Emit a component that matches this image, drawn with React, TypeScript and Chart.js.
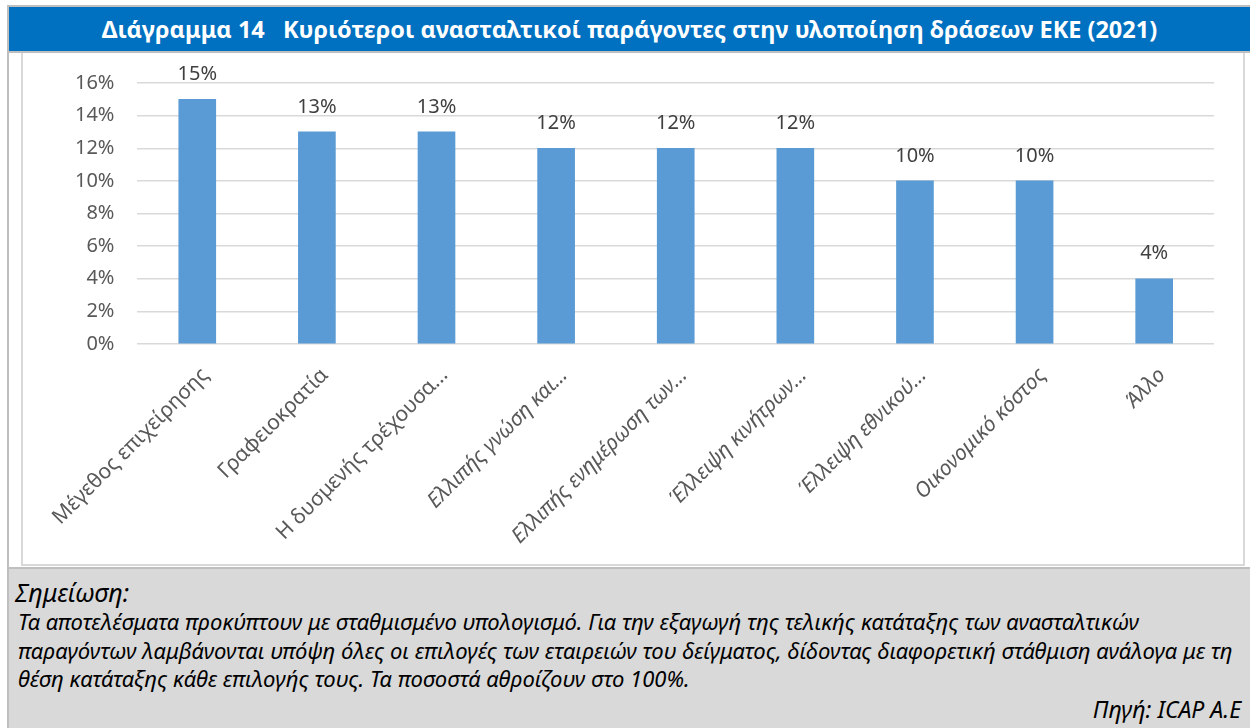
import React, { useEffect, useRef } from "react";
import { Chart, registerables } from "chart.js";

Chart.register(...registerables);

const titleText = "Διάγραμμα 14\u00a0\u00a0\u00a0Κυριότεροι ανασταλτικοί παράγοντες στην υλοποίηση δράσεων ΕΚΕ (2021)";
const categories = [
  "Μέγεθος επιχείρησης",
  "Γραφειοκρατία",
  "Η δυσμενής τρέχουσα...",
  "Ελλιπής γνώση και...",
  "Ελλιπής ενημέρωση των...",
  "Έλλειψη κινήτρων...",
  "Έλλειψη εθνικού...",
  "Οικονομικό κόστος",
  "Άλλο",
];
const values = [15, 13, 13, 12, 12, 12, 10, 10, 4];
const yMin = 0;
const yMax = 16;
const yStep = 2;
const noteTitle = "Σημείωση:";
const noteLines = [
  "Τα αποτελέσματα προκύπτουν με σταθμισμένο υπολογισμό. Για την εξαγωγή της τελικής κατάταξης των ανασταλτικών",
  "παραγόντων λαμβάνονται υπόψη όλες οι επιλογές των εταιρειών του δείγματος, δίδοντας διαφορετική στάθμιση ανάλογα με τη",
  "θέση κατάταξης κάθε επιλογής τους. Τα ποσοστά αθροίζουν στο 100%.",
];
const sourceText = "Πηγή: ICAP A.E";

const FONT = "'Noto Sans', sans-serif";

const valueLabelPlugin = {
  id: "valueLabels",
  afterDatasetsDraw(chart: any) {
    const ctx = chart.ctx;
    const meta = chart.getDatasetMeta(0);
    ctx.save();
    ctx.fillStyle = "#404040";
    ctx.font = "20px " + FONT;
    ctx.textAlign = "center";
    ctx.textBaseline = "bottom";
    meta.data.forEach((bar: any, i: number) => {
      ctx.fillText(values[i] + "%", bar.x, bar.y - 15);
    });
    ctx.restore();
  },
};

export default function App() {
  const ref = useRef<HTMLCanvasElement>(null);
  useEffect(() => {
    document.body.style.margin = "0";
    const chart = new Chart(ref.current as HTMLCanvasElement, {
      type: "bar",
      data: {
        labels: categories,
        datasets: [
          {
            data: values,
            backgroundColor: "#5b9bd5",
            barThickness: 37,
          },
        ],
      },
      options: {
        animation: false,
        responsive: false,
        maintainAspectRatio: false,
        layout: { padding: { top: 30, right: 29, left: 0, bottom: 0 } },
        plugins: {
          legend: { display: false },
          tooltip: { enabled: false },
        },
        scales: {
          x: {
            grid: { display: false, drawTicks: false },
            border: { display: false },
            ticks: {
              autoSkip: false,
              minRotation: 45,
              maxRotation: 45,
              padding: 19,
              labelOffset: 8,
              color: "#595959",
              font: (ctx: any) => ({
                family: FONT,
                size: 21,
                style: ctx.index >= 3 ? "italic" : "normal",
              }),
            },
            afterFit: (s: any) => {
              s.height = 220;
            },
          },
          y: {
            min: yMin,
            max: yMax,
            ticks: {
              stepSize: yStep,
              padding: 23,
              color: "#595959",
              font: { family: FONT, size: 20 },
              callback: (v: any) => v + "%",
            },
            grid: { color: "#d9d9d9", lineWidth: 1.5, drawTicks: false },
            border: { display: false },
            afterFit: (s: any) => {
              s.width = 112;
              s.paddingTop = 12;
              s.paddingBottom = 12;
            },
          },
        },
      },
      plugins: [valueLabelPlugin],
    });
    return () => chart.destroy();
  }, []);

  return (
    <div style={{ position: "relative", width: 1250, height: 728, overflow: "hidden", background: "#fff", fontFamily: FONT }}>
      <div style={{ position: "absolute", left: 7, top: 5, width: 1250, height: 730, border: "2px solid #bfbfbf", boxSizing: "border-box" }} />
      <div
        style={{
          position: "absolute",
          left: 9,
          top: 7,
          width: 1241,
          height: 44,
          background: "#0070c0",
          color: "#fff",
          fontWeight: 700,
          fontSize: 23.5,
          display: "flex",
          alignItems: "center",
          justifyContent: "center",
          whiteSpace: "nowrap",
          borderBottom: "2px solid #bfbfbf",
          boxSizing: "content-box",
        }}
      >
        {titleText}
      </div>
      <div
        style={{
          position: "absolute",
          left: 21,
          top: 53,
          width: 1224,
          height: 513,
          borderLeft: "2px solid #d9d9d9",
          borderRight: "2px solid #d9d9d9",
          borderBottom: "2px solid #d9d9d9",
          boxSizing: "border-box",
        }}
      />
      <canvas
        ref={ref}
        width={1220}
        height={511}
        style={{ position: "absolute", left: 23, top: 53, width: 1220, height: 511 }}
      />
      <div
        style={{
          position: "absolute",
          left: 9,
          top: 567,
          width: 1241,
          height: 161,
          background: "#d9d9d9",
          borderTop: "2px solid #bfbfbf",
          boxSizing: "border-box",
          color: "#000",
          fontStyle: "italic",
        }}
      >
        <div style={{ position: "absolute", left: 6, top: 8, fontSize: 25, lineHeight: "30px" }}>{noteTitle}</div>
        {noteLines.map((l, i) => (
          <div key={i} style={{ position: "absolute", left: 9, top: 38 + i * 28.5, fontSize: 22, lineHeight: "28px", whiteSpace: "nowrap" }}>
            {l}
          </div>
        ))}
        <div style={{ position: "absolute", right: 9, top: 125, fontSize: 23, lineHeight: "30px" }}>{sourceText}</div>
      </div>
    </div>
  );
}
